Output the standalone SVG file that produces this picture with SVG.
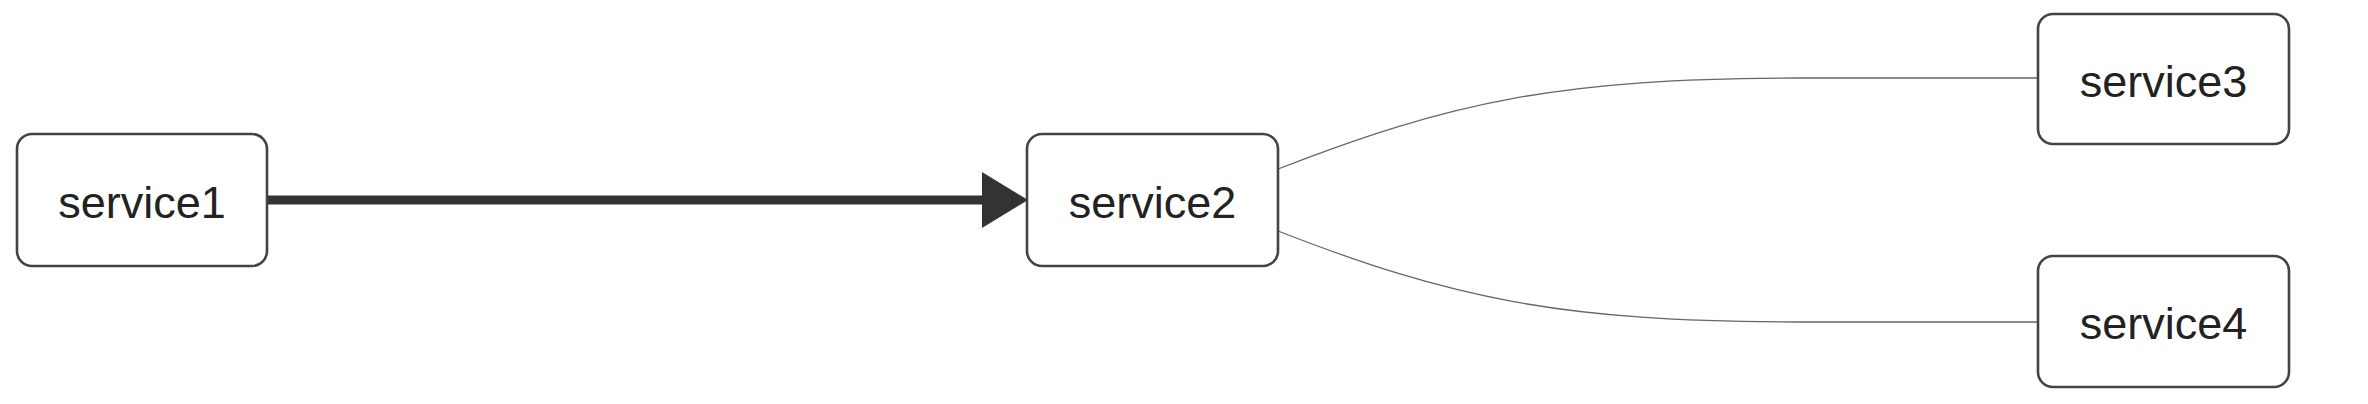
<svg xmlns="http://www.w3.org/2000/svg" width="2368" height="404" viewBox="0 0 2368 404">
  <style>
    .node rect { fill: #ffffff; stroke: #444444; stroke-width: 2.6; }
    .node text { font-family: "Liberation Sans", Arial, Helvetica, sans-serif; font-size: 45px; fill: #222222; text-anchor: middle; }
    .thick { fill: none; stroke: #333333; stroke-width: 9; }
    .thin { fill: none; stroke: #666666; stroke-width: 1.3; }
  </style>
  <defs>
    <marker id="arrow" viewBox="0 0 46 56" refX="4" refY="28" markerWidth="46" markerHeight="56" markerUnits="userSpaceOnUse" orient="auto">
      <path d="M0,0 L46,28 L0,56 z" fill="#333333"/>
    </marker>
  </defs>
  <rect width="2368" height="404" fill="#ffffff"/>
  <g id="connectors">
    <path class="thick" d="M267,200 L986,200" marker-end="url(#arrow)"/>
    <path class="thin" d="M1278,169 C1450,102 1560,78 1800,78 L2039,78"/>
    <path class="thin" d="M1278,231 C1450,298 1560,322 1800,322 L2039,322"/>
  </g>
  <g id="service1" class="node">
    <rect x="17" y="134" width="250" height="132" rx="15" ry="15"/>
    <text x="142" y="218">service1</text>
  </g>
  <g id="service2" class="node">
    <rect x="1027" y="134" width="251" height="132" rx="15" ry="15"/>
    <text x="1152.5" y="218">service2</text>
  </g>
  <g id="service3" class="node">
    <rect x="2038" y="14" width="251" height="130" rx="15" ry="15"/>
    <text x="2163.5" y="97">service3</text>
  </g>
  <g id="service4" class="node">
    <rect x="2038" y="256" width="251" height="131" rx="15" ry="15"/>
    <text x="2163.5" y="339">service4</text>
  </g>
</svg>
